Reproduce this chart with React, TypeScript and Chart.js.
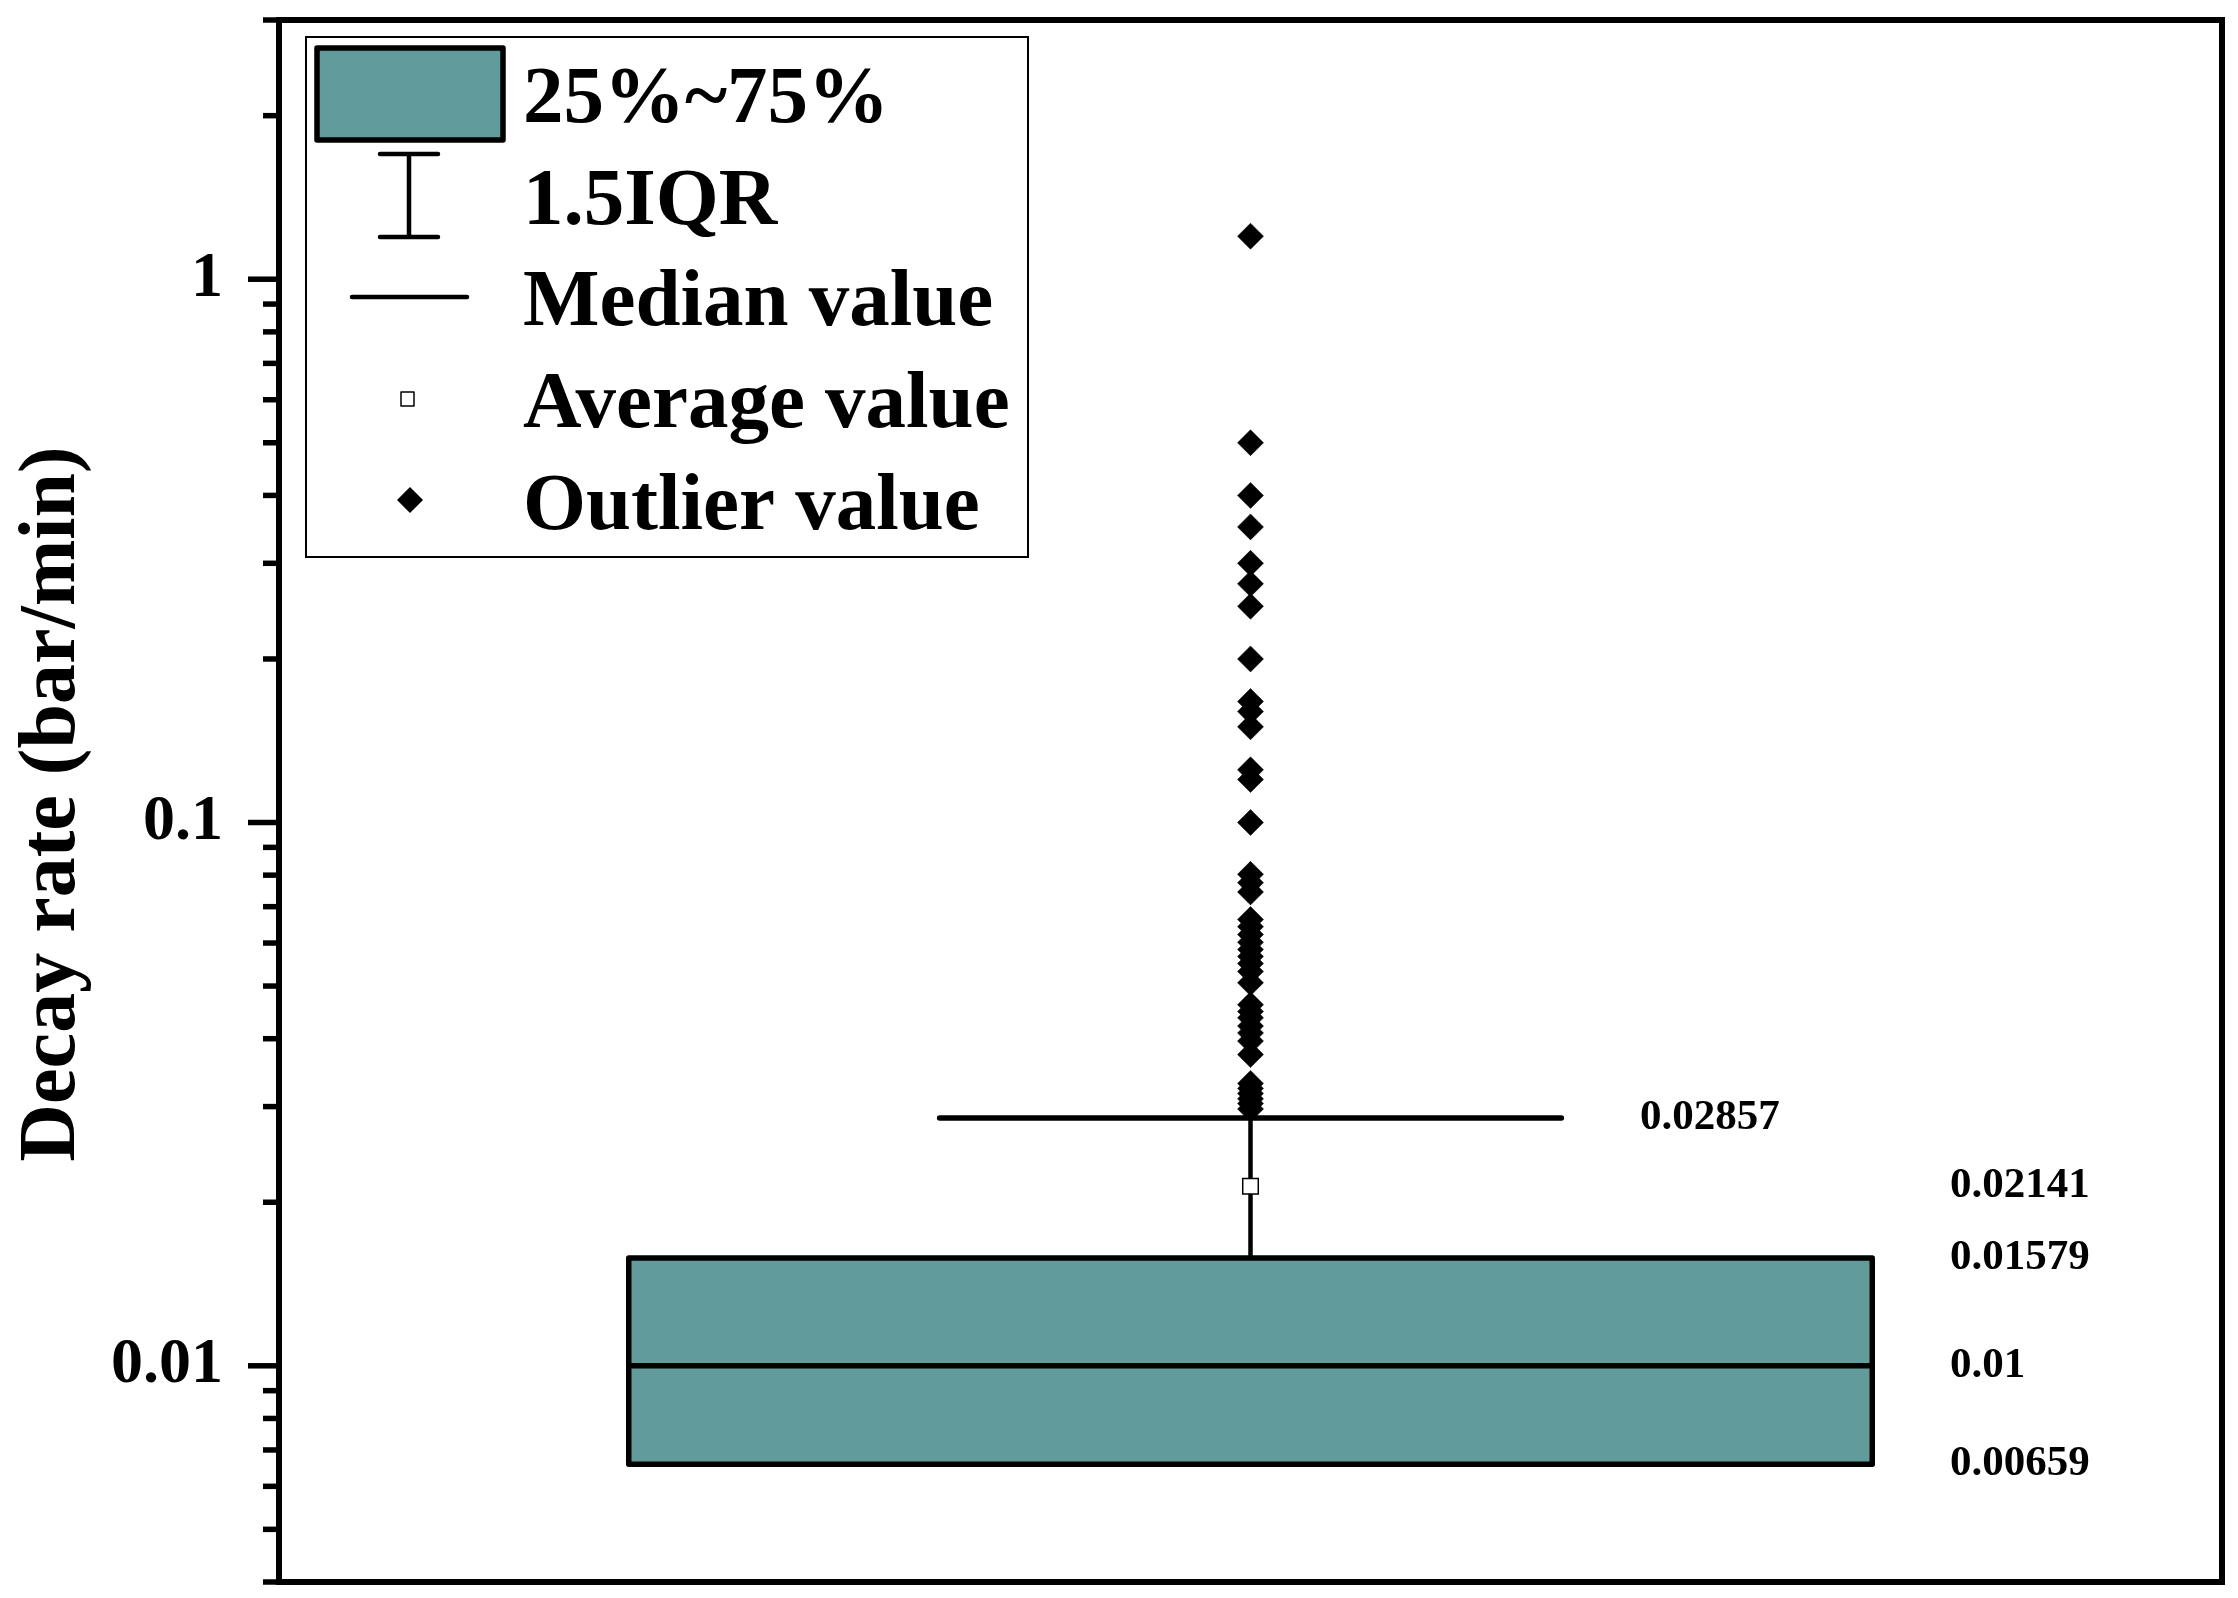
import React, { useEffect, useRef } from 'react';
import { Chart, registerables } from 'chart.js';

Chart.register(...registerables);

// ---------------- data ----------------
const statNames = ['Q1', 'Median', 'Q3', 'Mean', 'Upper whisker'];
const statValues = [0.00659, 0.01, 0.01579, 0.02141, 0.02857];
const statLabels = ['0.00659', '0.01', '0.01579', '0.02141', '0.02857'];

const outlierValues = [
  1.2, 0.5, 0.4, 0.35, 0.3, 0.275, 0.25, 0.2, 0.167, 0.16, 0.15, 0.125, 0.12, 0.1,
  0.0803, 0.0775, 0.0745,
  0.0663, 0.0643, 0.0622, 0.0602, 0.0584, 0.0567, 0.055, 0.0532, 0.0507,
  0.0462, 0.0449, 0.0437, 0.0422, 0.041, 0.0396, 0.0374,
  0.0331, 0.0324, 0.0317, 0.031, 0.0304, 0.0297,
];

const yTickValues = [0.01, 0.1, 1];
const yTickLabels = ['0.01', '0.1', '1'];
const yTitle = 'Decay rate (bar/min)';
const legendLabels = ['25%~75%', '1.5IQR', 'Median value', 'Average value', 'Outlier value'];

// ---------------- style ----------------
const FONT = "'Liberation Serif', 'Times New Roman', serif";
const TEAL = '#629b9b';
const W = 2238;
const H = 1598;

const stat = (name: string) => statValues[statNames.indexOf(name)];

const boxPlugin = {
  id: 'boxPlugin',
  beforeDatasetsDraw(chart: any) {
    const { ctx, scales } = chart;
    const xa = scales.x;
    const ya = scales.y;
    const xL = xa.getPixelForValue(0.18);
    const xR = xa.getPixelForValue(0.82);
    const xC = xa.getPixelForValue(0.5);
    const yQ1 = ya.getPixelForValue(stat('Q1'));
    const yQ3 = ya.getPixelForValue(stat('Q3'));
    const yMed = ya.getPixelForValue(stat('Median'));
    const yWh = ya.getPixelForValue(stat('Upper whisker'));
    ctx.save();
    // whisker
    ctx.strokeStyle = '#000';
    ctx.lineWidth = 4.5;
    ctx.beginPath();
    ctx.moveTo(xC, yQ3);
    ctx.lineTo(xC, yWh);
    ctx.stroke();
    ctx.lineWidth = 5.5;
    ctx.lineCap = 'round';
    ctx.beginPath();
    ctx.moveTo(xa.getPixelForValue(0.34), yWh);
    ctx.lineTo(xa.getPixelForValue(0.66), yWh);
    ctx.stroke();
    ctx.lineCap = 'butt';
    // box
    ctx.fillStyle = TEAL;
    ctx.fillRect(xL, yQ3, xR - xL, yQ1 - yQ3);
    ctx.lineWidth = 5.5;
    ctx.lineJoin = 'round';
    ctx.strokeRect(xL, yQ3, xR - xL, yQ1 - yQ3);
    ctx.beginPath();
    ctx.moveTo(xL, yMed);
    ctx.lineTo(xR, yMed);
    ctx.stroke();
    ctx.restore();
  },
  afterDatasetsDraw(chart: any) {
    const { ctx, scales } = chart;
    const xa = scales.x;
    const ya = scales.y;
    ctx.save();
    ctx.fillStyle = '#000';
    ctx.font = `bold 43px ${FONT}`;
    ctx.textAlign = 'left';
    ctx.textBaseline = 'middle';
    statValues.forEach((v, i) => {
      const xv = statNames[i] === 'Upper whisker' ? 0.7005 : 0.86;
      ctx.fillText(statLabels[i], xa.getPixelForValue(xv), ya.getPixelForValue(v));
    });
    ctx.restore();
  },
  afterDraw(chart: any) {
    const { ctx, chartArea: ca, scales } = chart;
    const ya = scales.y;
    ctx.save();
    // frame
    ctx.strokeStyle = '#000';
    ctx.lineWidth = 6;
    ctx.lineJoin = 'miter';
    ctx.strokeRect(ca.left, ca.top, ca.right - ca.left, ca.bottom - ca.top);
    // y ticks
    ctx.lineWidth = 5.5;
    ya.ticks.forEach((t: any) => {
      const y = ya.getPixelForValue(t.value);
      const major = yTickValues.some((v) => Math.abs(v - t.value) < v * 1e-6);
      ctx.beginPath();
      ctx.moveTo(ca.left, y);
      ctx.lineTo(ca.left - (major ? 31 : 16), y);
      ctx.stroke();
    });
    // y title
    ctx.save();
    ctx.translate(74, 804);
    ctx.rotate(-Math.PI / 2);
    ctx.font = `bold 80px ${FONT}`;
    ctx.textAlign = 'center';
    ctx.textBaseline = 'alphabetic';
    ctx.fillStyle = '#000';
    ctx.fillText(yTitle, 0, 0);
    ctx.restore();

    // legend
    ctx.fillStyle = '#fff';
    ctx.fillRect(306, 37, 722, 520);
    ctx.lineWidth = 2;
    ctx.strokeRect(306, 37, 722, 520);
    // box symbol
    ctx.fillStyle = TEAL;
    ctx.fillRect(317, 48, 186, 92);
    ctx.lineWidth = 5.5;
    ctx.lineJoin = 'round';
    ctx.strokeRect(317, 48, 186, 92);
    // whisker symbol
    ctx.lineWidth = 4.5;
    ctx.lineCap = 'round';
    ctx.beginPath();
    ctx.moveTo(380, 154); ctx.lineTo(438, 154);
    ctx.moveTo(380, 237); ctx.lineTo(438, 237);
    ctx.moveTo(409, 154); ctx.lineTo(409, 237);
    ctx.stroke();
    // median symbol
    ctx.beginPath();
    ctx.moveTo(352, 297); ctx.lineTo(467, 297);
    ctx.stroke();
    ctx.lineCap = 'butt';
    // mean symbol
    ctx.fillStyle = '#fff';
    ctx.lineWidth = 1.5;
    ctx.fillRect(401, 392, 13, 14);
    ctx.strokeRect(401, 392, 13, 14);
    // outlier symbol
    ctx.fillStyle = '#000';
    ctx.beginPath();
    ctx.moveTo(410 - 13, 500);
    ctx.lineTo(410, 500 - 13);
    ctx.lineTo(410 + 13, 500);
    ctx.lineTo(410, 500 + 13);
    ctx.closePath();
    ctx.fill();
    // legend texts
    ctx.font = `bold 81px ${FONT}`;
    ctx.textAlign = 'left';
    ctx.textBaseline = 'alphabetic';
    legendLabels.forEach((l, i) => {
      ctx.fillText(l, 523, 122 + i * 101.7);
    });
    ctx.restore();
  },
};

export default function App() {
  const ref = useRef<HTMLCanvasElement | null>(null);
  useEffect(() => {
    if (!ref.current) return;
    const chart = new Chart(ref.current, {
      type: 'scatter',
      data: {
        datasets: [
          {
            label: 'Average value',
            data: [{ x: 0.5, y: stat('Mean') }],
            pointStyle: 'rect',
            pointRadius: 11,
            backgroundColor: '#fff',
            borderColor: '#000',
            borderWidth: 1.5,
            order: 2,
          },
          {
            label: 'Outlier value',
            data: outlierValues.map((v) => ({ x: 0.5, y: v })),
            pointStyle: 'rectRot',
            pointRadius: 13,
            backgroundColor: '#000',
            borderColor: '#000',
            borderWidth: 0.5,
            order: 1,
          },
        ],
      },
      options: {
        responsive: false,
        animation: false,
        devicePixelRatio: 1,
        layout: { padding: { left: 0, top: 20, right: W - 2222, bottom: H - 1582 } },
        plugins: {
          legend: { display: false },
          tooltip: { enabled: false },
          title: { display: false },
        },
        scales: {
          x: { type: 'linear', min: 0, max: 1, display: false },
          y: {
            type: 'logarithmic',
            position: 'left',
            min: 0.004,
            max: 3,
            grid: { display: false, drawTicks: false },
            border: { display: false },
            afterFit: (s: any) => {
              s.width = 279;
              s.paddingTop = 0;
              s.paddingBottom = 0;
            },
            afterBuildTicks: (s: any) => {
              const ticks: any[] = [];
              for (let e = -3; e <= 0; e++) {
                for (let m = 1; m <= 9; m++) {
                  const v = parseFloat((m * Math.pow(10, e)).toPrecision(6));
                  if (v >= 0.004 - 1e-9 && v <= 3 + 1e-9) ticks.push({ value: v });
                }
              }
              s.ticks = ticks;
            },
            ticks: {
              autoSkip: false,
              padding: 56,
              color: '#000',
              font: { family: FONT, size: 64, weight: 'bold' },
              callback: (value: any) => {
                const idx = yTickValues.findIndex((v) => Math.abs(v - Number(value)) < v * 1e-6);
                return idx >= 0 ? yTickLabels[idx] : '';
              },
            },
          },
        },
      },
      plugins: [boxPlugin],
    } as any);
    return () => chart.destroy();
  }, []);
  return (
    <div style={{ position: 'fixed', left: 0, top: 0, width: W, height: H, background: '#fff' }}>
      <canvas ref={ref} width={W} height={H} style={{ display: 'block' }} />
    </div>
  );
}
